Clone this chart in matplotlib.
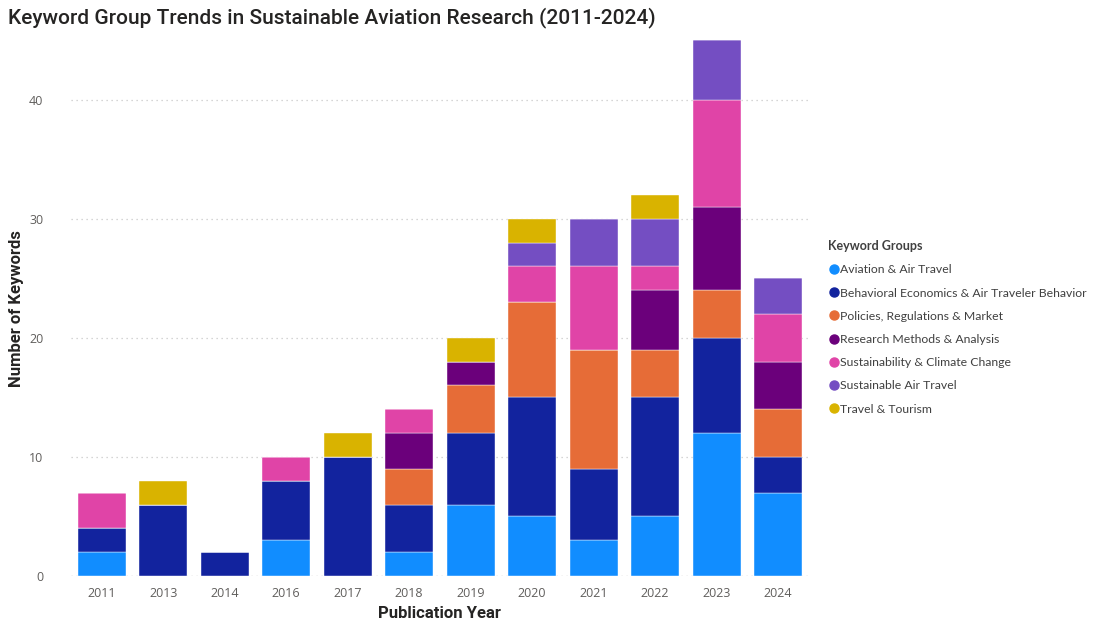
import numpy as np
import matplotlib.pyplot as plt
from matplotlib.lines import Line2D

# 年份与各关键词组数量
years = ['2011', '2013', '2014', '2016', '2017', '2018', '2019', '2020', '2021', '2022', '2023', '2024']
groups = ['Aviation & Air Travel',
          'Behavioral Economics & Air Traveler Behavior',
          'Policies, Regulations & Market',
          'Research Methods & Analysis',
          'Sustainability & Climate Change',
          'Sustainable Air Travel',
          'Travel & Tourism']
aviation = [2, 0, 0, 3, 0, 2, 6, 5, 3, 5, 12, 7]
behavioral = [2, 6, 2, 5, 10, 4, 6, 10, 6, 10, 8, 3]
policies = [0, 0, 0, 0, 0, 3, 4, 8, 10, 4, 4, 4]
research = [0, 0, 0, 0, 0, 3, 2, 0, 0, 5, 7, 4]
sustainability = [3, 0, 0, 2, 0, 2, 0, 3, 7, 2, 9, 4]
sustainable_air = [0, 0, 0, 0, 0, 0, 0, 2, 4, 4, 5, 3]
tourism = [0, 2, 0, 0, 2, 0, 2, 2, 0, 2, 0, 0]
colors = ['#118DFF', '#12239E', '#E66C37', '#6B007B', '#E044A7', '#744EC2', '#D9B300']

series = [aviation, behavioral, policies, research, sustainability, sustainable_air, tourism]

fig = plt.figure(figsize=(10.99, 6.19), dpi=100)
ax = fig.add_axes([0.0646, 0.0695, 0.6714, 0.8655])

x = np.arange(len(years))
bottom = np.zeros(len(years))
for vals, c in zip(series, colors):
    vals = np.array(vals, dtype=float)
    ax.bar(x, vals, 0.78, bottom=bottom, color=c, edgecolor='white', linewidth=0.3, zorder=3)
    bottom += vals

ax.set_xlim(-0.5, len(years) - 0.5)
ax.set_ylim(0, 45)
ax.set_yticks([0, 10, 20, 30, 40])
ax.set_xticks(x)
ax.set_xticklabels(years)
ax.grid(axis='y', linestyle=(0, (1, 3)), color='#C8C8C8', linewidth=0.9, zorder=0)
ax.axhline(0, linestyle=(0, (1, 3)), color='#C8C8C8', linewidth=0.9, zorder=0)
for s in ax.spines.values():
    s.set_visible(False)
ax.tick_params(length=0, labelsize=9, labelcolor='#605E5C', pad=8)
for lab in ax.get_xticklabels() + ax.get_yticklabels():
    lab.set_family('Open Sans')
ax.tick_params(axis='y', pad=20)

ax.set_xlabel('Publication Year', fontsize=12, fontweight='bold', family='Roboto',
              color='#252423', labelpad=4)
ax.set_ylabel('Number of Keywords', fontsize=12, fontweight='bold', family='Roboto',
              color='#252423')
ax.yaxis.set_label_coords(-0.064, 0.5)

fig.text(0.007, 0.972, 'Keyword Group Trends in Sustainable Aviation Research (2011-2024)',
         fontsize=15, family='Roboto', fontweight='medium', color='#252423', va='center')

handles = [Line2D([], [], marker='o', linestyle='', markersize=6.5, markerfacecolor=c,
                  markeredgecolor=c) for c in colors]
leg = fig.legend(handles, groups, loc='upper left', bbox_to_anchor=(0.749, 0.62),
                 frameon=False, title='Keyword Groups', alignment='left',
                 prop={'family': 'Lato', 'size': 8.8}, handletextpad=0.05,
                 labelspacing=1.0, borderaxespad=0, handlelength=0.9)
leg.get_title().set_fontweight('bold')
leg.get_title().set_fontsize(9)
leg.get_title().set_family('Lato')
leg.get_title().set_color('#404040')
for t in leg.get_texts():
    t.set_color('#404040')

fig.savefig('out.png', dpi=100)
